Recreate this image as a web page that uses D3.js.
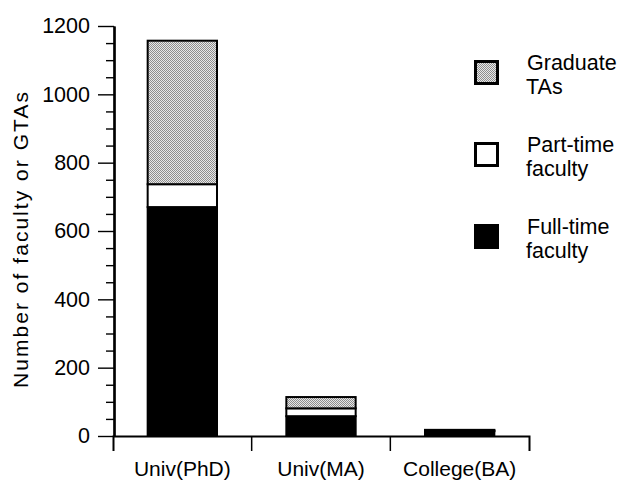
<!DOCTYPE html>
<html>
<head>
<meta charset="utf-8">
<script src="https://cdn.jsdelivr.net/npm/d3@7"></script>
<style>
  html, body { margin: 0; padding: 0; background: #fff; }
  svg { display: block; }
  text { font-family: "Liberation Sans", Arial, Helvetica, sans-serif; fill: #000; }
</style>
</head>
<body>
<svg id="chart" width="623" height="480"></svg>
<script>
// ---- data ----
const categories = ["Univ(PhD)", "Univ(MA)", "College(BA)"];
const fullTime   = [670, 58, 14];
const partTime   = [67, 23, 2];
const graduateTAs = [420, 33, 2];
const majorTicks = [0, 200, 400, 600, 800, 1000, 1200];
const minorTicks = [50, 100, 150, 250, 300, 350, 450, 500, 550, 650, 700, 750, 850, 900, 950, 1050, 1100, 1150];
const seriesKeys = ["full", "part", "gta"];
const legendKeys = ["gta", "part", "full"];
const legendLines = [["Graduate", "TAs"], ["Part-time", "faculty"], ["Full-time", "faculty"]];
const yLabel = "Number of faculty or GTAs";

// ---- setup ----
const svg = d3.select("#chart");
const defs = svg.append("defs");
const pat = defs.append("pattern")
  .attr("id", "dots").attr("patternUnits", "userSpaceOnUse")
  .attr("width", 2).attr("height", 2);
pat.append("rect").attr("width", 2).attr("height", 2).attr("fill", "#e8e8e8");
pat.append("rect").attr("x", 0).attr("y", 0).attr("width", 1).attr("height", 1).attr("fill", "#8e8e8e");
pat.append("rect").attr("x", 1).attr("y", 1).attr("width", 1).attr("height", 1).attr("fill", "#8e8e8e");

const fills = { full: "#000", part: "#fff", gta: "url(#dots)" };

const x = d3.scaleBand().domain(categories).range([113, 529])
  .paddingInner(0.5).paddingOuter(0.25);
const y = d3.scaleLinear().domain([0, 1200]).range([436, 26]);

const rows = categories.map((c, i) => ({ cat: c, full: fullTime[i], part: partTime[i], gta: graduateTAs[i] }));
const stacked = d3.stack().keys(seriesKeys)(rows);

// ---- bars ----
const gBars = svg.append("g");
stacked.forEach(layer => {
  gBars.selectAll(null).data(layer).join("rect")
    .attr("x", d => x(d.data.cat))
    .attr("width", x.bandwidth())
    .attr("y", d => y(d[1]))
    .attr("height", d => y(d[0]) - y(d[1]))
    .attr("fill", fills[layer.key])
    .attr("stroke", "#000")
    .attr("stroke-width", 2);
});

// ---- y axis ----
const xAxisPos = x.range()[0] + 1;
const yMinor = svg.append("g").attr("transform", `translate(${xAxisPos},0)`)
  .call(d3.axisLeft(y).tickValues(minorTicks).tickSize(8).tickSizeOuter(0).tickFormat(""));
const yMajor = svg.append("g").attr("transform", `translate(${xAxisPos},0)`)
  .call(d3.axisLeft(y).tickValues(majorTicks).tickSize(16).tickSizeOuter(0).tickPadding(8).tickFormat(d3.format("d")));
[yMinor, yMajor].forEach(g => {
  g.select(".domain").attr("stroke-width", 2.2);
  g.selectAll(".tick line").attr("stroke-width", 1.4);
  g.selectAll("text").style("font-size", "21.5px").attr("fill", "#000");
});

// ---- x axis ----
const gx = svg.append("g").attr("transform", `translate(0,${y(0)})`)
  .call(d3.axisBottom(x).tickSizeInner(0).tickSizeOuter(15).tickPadding(25));
gx.select(".domain").attr("stroke-width", 2);
gx.selectAll("text").style("font-size", "21px").attr("fill", "#000");
// boundary ticks between categories
const bounds = categories.slice(1).map(c => x(c) + x.bandwidth() / 2 - x.step() / 2);
gx.selectAll(".btick").data(bounds).join("line")
  .attr("class", "btick")
  .attr("x1", d => d).attr("x2", d => d)
  .attr("y1", 0).attr("y2", 15)
  .attr("stroke", "#000").attr("stroke-width", 1.5);

// ---- y label ----
svg.append("text")
  .attr("transform", `translate(28,240) rotate(-90)`)
  .attr("text-anchor", "middle")
  .attr("textLength", 296)
  .attr("lengthAdjust", "spacing")
  .style("font-size", "21px")
  .text(yLabel);

// ---- legend ----
const legend = svg.append("g");
legendKeys.forEach((k, i) => {
  const top = 61.5 + i * 82;
  legend.append("rect")
    .attr("x", 475.5).attr("y", top)
    .attr("width", 22).attr("height", 22)
    .attr("fill", fills[k]).attr("stroke", "#000").attr("stroke-width", 3);
  legend.append("text")
    .attr("x", 527).attr("y", top + 8.5)
    .style("font-size", "21.5px")
    .text(legendLines[i][0]);
  legend.append("text")
    .attr("x", 526).attr("y", top + 32)
    .style("font-size", "21.5px")
    .text(legendLines[i][1]);
});
</script>
</body>
</html>
